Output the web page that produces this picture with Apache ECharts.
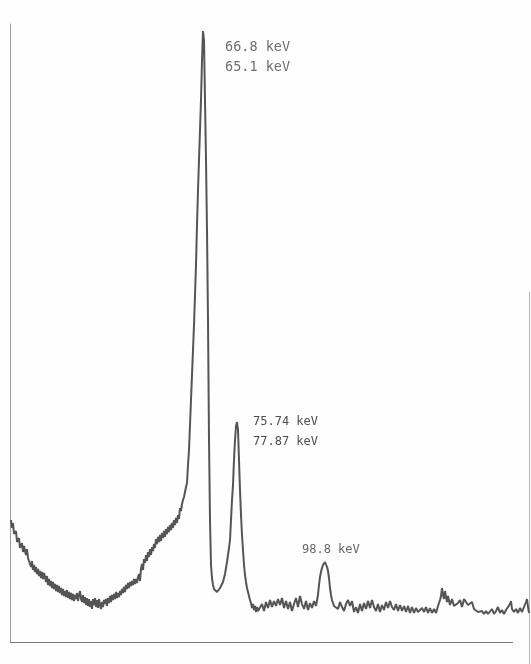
<!DOCTYPE html>
<html>
<head>
<meta charset="utf-8">
<script src="https://cdn.jsdelivr.net/npm/echarts@6/dist/echarts.min.js"></script>
<style>
html,body{margin:0;padding:0;background:#fefefe;}
#chart{width:531px;height:664px;}
</style>
</head>
<body>
<div id="chart"></div>
<script>
// Spectrum trace, counts per channel (channel numbers start at 1, one per sample)
var lowEnergyBackground = [
122,114,119,108,106,111,100,99,104,94,
93,99,90,96,91,87,93,84,81,78,
75,81,72,77,70,75,68,73,66,71,
64,70,63,69,65,60,66,57,63,56,
61,54,60,53,58,51,57,50,56,49,
54,47,53,46,51,45,52,44,50,43,
49,42,48,41,47,43,49,41,47,51,
43,40,47,39,45,37,44,36,43,35,
41,33,43,37,44,35,42,34,43,37,
33,40,35,42,38,43,36,44,39,46,
40,47,42,48,43,50,44,49,45,51,
47,53,49,55,50,57,53,59,54,60,
56,61,57,63,58,63,59,65,68,61,
73,78,72,83,79,87,81,90,85,93,
87,95,91,98,94,103,98,105,100,107,
101,109,104,111,105,113,108,115,110,117,
112,119,114,122,117,124,119,127,123,
134,131,138,142,145,150,155,159
];
// [channel, counts]
var mainPeak = [
[178,177],[179,192],[180,217],[181,242],[182,267],[183,292],[184,317],[185,347],[186,377],[187,417],
[188,452],[189,482],[190,512],[191,542],[192,582],[193,611],[194,602],[195,542],[196,482],[197,412],
[198,322],[199,202],[200,122],[201,77],[202,64],[203,57],[204,53],[205,51],[206,53],[207,50],
[208,52],[209,51],[210,54],[211,53],[212,56],[213,60],[214,64],[215,68],[216,74],[217,80],
[218,87],[219,94],[220,102]
];
var secondPeak = [
[221,122],[222,142],[223,157],[224,182],[225,202],[226,216],[227,220],[228,212],[229,182],[230,152],
[231,127],[232,107],[233,92],[234,77],[235,67],[236,60],[237,54],[238,50],[239,46],[240,42],
[241,39],[242,34],[243,38],[244,32],[245,36],[246,30],[247,35],[248,31],[249,29]
];
var highEnergyTail = [
[250,33],[252,38],[254,31],[256,40],[258,34],[260,42],[262,35],[264,41],[266,36],[268,43],
[270,37],[272,44],[274,34],[276,41],[278,33],[280,40],[282,31],[284,38],[286,44],[288,35],
[290,46],[292,38],[294,33],[296,41],[298,32],[300,39],[302,34],[304,41],[306,36],
[308,47],[309,57],[310,65],[311,70],[312,74],[313,77],[314,79],[315,80],[316,78],[317,75],
[318,71],[319,64],[320,54],[321,47],[322,42],
[324,36],[326,38],[328,33],[330,40],[332,35],[334,31],[336,38],[338,42],[340,36],[342,41],
[344,30],[346,35],[348,29],[350,38],[352,31],[354,39],[356,33],[358,41],[360,34],[362,42],
[364,35],[366,31],[368,38],[370,30],[372,37],[374,32],[376,40],[378,34],[380,41],[382,35],
[384,32],[386,38],[388,31],[390,37],[392,31],[394,36],[396,30],[398,36],[400,29],[402,35],
[404,29],[406,34],[408,30],[410,29],[412,34],[414,30],[416,35],[418,29],[420,34],[422,29],
[424,33],[426,29],[428,36],[430,42],[431,46],[432,54],[433,47],[434,43],[435,51],[436,45],
[437,40],[438,46],[440,37],[442,43],[444,36],[446,34],[448,39],[450,42],[452,35],[454,43],
[456,45],[458,37],[460,35],[462,40],[464,33],[466,31],[468,30],[470,29],[472,31],[474,28],
[476,31],[478,28],[480,29],[482,33],[484,28],[486,31],[488,35],[490,29],[492,32],[494,28],
[496,32],[498,34],[500,38],[501,41],[502,33],[504,30],[506,33],[508,29],[510,34],[512,30],
[514,32],[516,40],[517,43],[518,35],[519,29]
];
var peakLabels = ['66.8 keV', '65.1 keV', '75.74 keV', '77.87 keV', '98.8 keV'];
var axisEnd = 503;

var trace = lowEnergyBackground.map(function (v, i) { return [i + 1, v]; })
  .concat(mainPeak, secondPeak, highEnergyTail);

var chart = echarts.init(document.getElementById('chart'), null, {renderer: 'canvas'});
chart.setOption({
  backgroundColor: '#fefefe',
  animation: false,
  grid: {left: 10, top: 24, right: 1, height: 618},
  xAxis: {
    type: 'value', min: 0, max: 520,
    axisLine: {show: false},
    axisTick: {show: false}, axisLabel: {show: false}, splitLine: {show: false}
  },
  yAxis: {
    type: 'value', min: 0, max: 618,
    axisLine: {show: true, lineStyle: {color: '#9a9a9a', width: 1}},
    axisTick: {show: false}, axisLabel: {show: false}, splitLine: {show: false}
  },
  series: [{
    type: 'line',
    data: trace,
    symbol: 'none',
    lineStyle: {color: '#555555', width: 2},
    silent: true,
    markLine: {
      silent: true,
      symbol: 'none',
      label: {show: false},
      lineStyle: {color: '#7a7a7a', width: 1, type: 'solid'},
      data: [[{coord: [0, 0]}, {coord: [axisEnd, 0]}]]
    }
  }],
  graphic: [
    {type: 'text', x: 225, y: 47, style: {text: peakLabels[0], fill: '#6e6e6e', font: '13.5px "DejaVu Sans Mono"', verticalAlign: 'middle'}},
    {type: 'text', x: 225, y: 67, style: {text: peakLabels[1], fill: '#6e6e6e', font: '13.5px "DejaVu Sans Mono"', verticalAlign: 'middle'}},
    {type: 'text', x: 253, y: 422, style: {text: peakLabels[2], fill: '#4e4e4e', font: '12px "DejaVu Sans Mono"', verticalAlign: 'middle'}},
    {type: 'text', x: 253, y: 442, style: {text: peakLabels[3], fill: '#4e4e4e', font: '12px "DejaVu Sans Mono"', verticalAlign: 'middle'}},
    {type: 'text', x: 302, y: 550, style: {text: peakLabels[4], fill: '#666666', font: '12px "DejaVu Sans Mono"', verticalAlign: 'middle'}},
    {type: 'line', shape: {x1: 529.5, y1: 292, x2: 529.5, y2: 664}, style: {stroke: '#b5b5b5', lineWidth: 1}}
  ]
});
</script>
</body>
</html>
